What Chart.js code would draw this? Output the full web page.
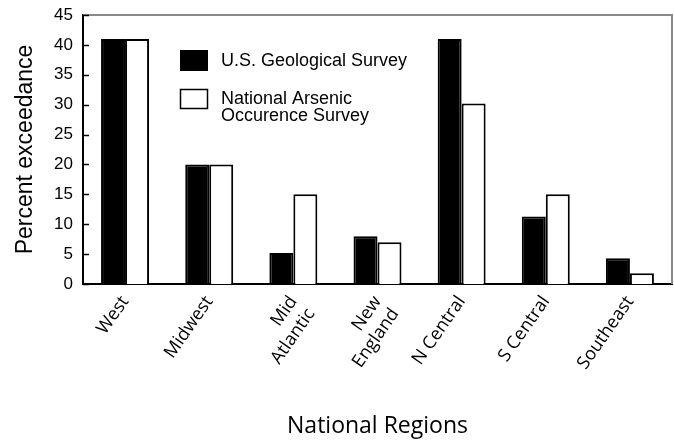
<!DOCTYPE html>
<html lang="en">
<head>
  <meta charset="UTF-8" />
  <title>Percent exceedance by region</title>
  <script src="https://cdn.jsdelivr.net/npm/chart.js"></script>
  <style>
    *{margin:0;padding:0;box-sizing:border-box}
    html,body{width:674px;height:440px;background:#fff;overflow:hidden}
    #wrap{width:674px;height:440px;position:relative}
  </style>
</head>
<body>
  <div id="wrap"><canvas id="chart"></canvas></div>

  <script>
    // data
    const regions = ['West', 'Midwest', ['Mid', 'Atlantic'], ['New', 'England'], 'N Central', 'S Central', 'Southeast'];
    const usgs = [41, 20, 5.2, 8, 41, 11.3, 4.3];
    const naos = [41, 20, 15, 7, 30.2, 15, 1.8];
    const yTicks = [0, 5, 10, 15, 20, 25, 30, 35, 40, 45];
    const seriesNames = ['U.S. Geological Survey', ['National Arsenic', 'Occurence Survey']];

    const sans = '"Liberation Sans", Arial, sans-serif';
    const humanist = '"Open Sans", "Noto Sans", sans-serif';

    // gray top/right frame + short inward ticks on the y axis
    const frame = {
      id: 'frame',
      afterDatasetsDraw(chart) {
        const {ctx, chartArea: a} = chart;
        const y = chart.scales.y;
        ctx.save();
        ctx.strokeStyle = '#8a8a8a';
        ctx.lineWidth = 2;
        ctx.beginPath();
        ctx.moveTo(a.left, a.top);
        ctx.lineTo(a.right, a.top);
        ctx.lineTo(a.right, a.bottom);
        ctx.stroke();
        ctx.strokeStyle = '#000';
        ctx.lineWidth = 1.5;
        yTicks.forEach(v => {
          const py = Math.round(y.getPixelForValue(v)) + 0.5;
          ctx.beginPath();
          ctx.moveTo(a.left, py);
          ctx.lineTo(a.left + 6, py);
          ctx.stroke();
        });
        ctx.restore();
      }
    };

    // legend drawn inside the plot, two-line label for the second series
    const boxLegend = {
      id: 'boxLegend',
      afterDraw(chart) {
        const {ctx, chartArea: a} = chart;
        const x0 = a.left + 97, tx = a.left + 138;
        ctx.save();
        ctx.font = '18px ' + sans;
        ctx.fillStyle = '#000';
        ctx.textBaseline = 'middle';
        ctx.fillRect(x0, 50, 28, 21);
        ctx.fillText(seriesNames[0], tx, 61);
        ctx.fillStyle = '#fff';
        ctx.fillRect(x0, 89, 28, 20);
        ctx.strokeStyle = '#000';
        ctx.lineWidth = 1.5;
        ctx.strokeRect(x0 + 0.5, 89.5, 27, 19);
        ctx.fillStyle = '#000';
        ctx.fillText(seriesNames[1][0], tx, 99);
        ctx.fillText(seriesNames[1][1], tx, 116);
        ctx.restore();
      }
    };

    new Chart(document.getElementById('chart'), {
      type: 'bar',
      data: {
        labels: regions,
        datasets: [
          { label: 'U.S. Geological Survey', data: usgs, backgroundColor: '#000', borderColor: '#000', borderWidth: 2,
            categoryPercentage: 0.57, barPercentage: 1 },
          { label: 'National Arsenic Occurence Survey', data: naos, backgroundColor: '#fff', borderColor: '#000', borderWidth: 2,
            categoryPercentage: 0.57, barPercentage: 1 }
        ]
      },
      options: {
        responsive: true,
        maintainAspectRatio: false,
        animation: false,
        layout: { padding: { top: 15, right: 2, left: 0, bottom: 0 } },
        plugins: { legend: { display: false }, tooltip: { enabled: false } },
        scales: {
          x: {
            grid: { display: false, drawTicks: false },
            border: { color: '#000', width: 2 },
            ticks: {
              color: '#000', maxRotation: 55, minRotation: 55, padding: 8, autoSkip: false,
              font: { family: humanist, size: 18 }
            },
            title: {
              display: true, text: 'National Regions', color: '#000',
              font: { family: humanist, size: 23 }, padding: { top: 0, bottom: 0 }
            },
            afterFit: s => { s.height = 156; }
          },
          y: {
            min: 0, max: 45,
            // hidden tick marks only push the labels away from the axis
            grid: { display: false, drawTicks: true, tickLength: 6 },
            border: { color: '#000', width: 2 },
            ticks: {
              stepSize: 5, color: '#000', padding: 4,
              font: { family: sans, size: 17 }
            },
            title: {
              display: true, text: 'Percent exceedance', color: '#000',
              font: { family: sans, size: 23 }, padding: { top: 12, bottom: 0 }
            },
            afterFit: s => { s.width = 83; }
          }
        }
      },
      plugins: [frame, boxLegend]
    });
  </script>
</body>
</html>
